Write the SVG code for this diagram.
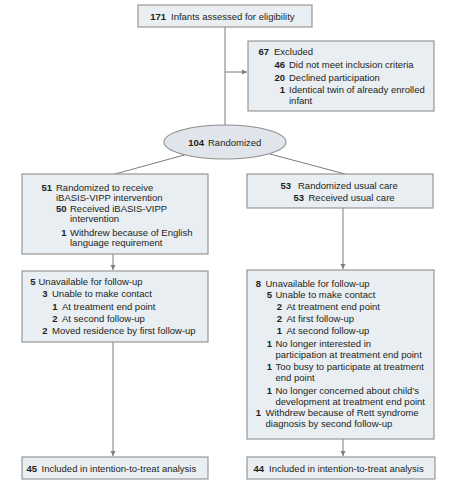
<svg xmlns="http://www.w3.org/2000/svg" width="458" height="490" viewBox="0 0 458 490">
<style>
.box{fill:#e9eef2;stroke:#8e8e8e;stroke-width:1.1}
.ell{fill:#dfe5ea;stroke:#8e8e8e;stroke-width:1.1}
.ln{fill:none;stroke:#7d7d7d;stroke-width:1}
text{font-family:"Liberation Sans",Arial,sans-serif;font-size:9.5px;fill:#231f20}
.n{font-weight:bold;text-anchor:end}
</style>
<defs>
<marker id="ah" markerWidth="6" markerHeight="6" refX="5" refY="3" orient="auto" markerUnits="userSpaceOnUse">
<path d="M0,0.5 L5,3 L0,5.5 Z" fill="#7d7d7d"/>
</marker>
</defs>
<rect width="458" height="490" fill="#ffffff"/>
<g id="connectors">
<line class="ln" x1="225" y1="27" x2="225" y2="125"/>
<line class="ln" x1="225" y1="72" x2="247" y2="72" marker-end="url(#ah)"/>
<line class="ln" x1="185" y1="154.8" x2="115" y2="174"/>
<line class="ln" x1="270" y1="154" x2="345" y2="174"/>
<line class="ln" x1="113" y1="254" x2="113" y2="270" marker-end="url(#ah)"/>
<line class="ln" x1="343" y1="208" x2="343" y2="269" marker-end="url(#ah)"/>
<line class="ln" x1="113" y1="342" x2="113" y2="456" marker-end="url(#ah)"/>
<line class="ln" x1="343" y1="439" x2="343" y2="456" marker-end="url(#ah)"/>
</g>
<g id="assessed">
<rect class="box" x="138" y="5" width="174" height="22"/>
<text class="n" x="166" y="20">171</text>
<text x="171" y="20">Infants assessed for eligibility</text>
</g>
<g id="excluded">
<rect class="box" x="248" y="41" width="186" height="70"/>
<text class="n" x="269" y="55">67</text><text x="274" y="55">Excluded</text>
<text class="n" x="285" y="68">46</text><text x="289" y="68">Did not meet inclusion criteria</text>
<text class="n" x="285" y="80.5">20</text><text x="289" y="80.5">Declined participation</text>
<text class="n" x="285" y="93">1</text><text x="289" y="93">Identical twin of already enrolled</text>
<text x="289" y="104">infant</text>
</g>
<g id="randomized">
<ellipse class="ell" cx="225" cy="142" rx="61" ry="17"/>
<text class="n" x="204" y="146">104</text><text x="208" y="146">Randomized</text>
</g>
<g id="intervention">
<rect class="box" x="22" y="174" width="186" height="80"/>
<text class="n" x="52" y="190.5">51</text><text x="56" y="190.5">Randomized to receive</text>
<text x="56" y="200.5">iBASIS-VIPP intervention</text>
<text class="n" x="66.5" y="212">50</text><text x="70" y="212">Received iBASIS-VIPP</text>
<text x="70" y="222">intervention</text>
<text class="n" x="66.5" y="235.5">1</text><text x="70" y="235.5">Withdrew because of English</text>
<text x="70" y="245.5">language requirement</text>
</g>
<g id="usualcare">
<rect class="box" x="247" y="174" width="186" height="34"/>
<text class="n" x="291" y="189">53</text><text x="298" y="189">Randomized usual care</text>
<text class="n" x="304" y="201">53</text><text x="308.5" y="201">Received usual care</text>
</g>
<g id="followup-left">
<rect class="box" x="22" y="271" width="186" height="71"/>
<text class="n" x="35.5" y="285">5</text><text x="38.5" y="285">Unavailable for follow-up</text>
<text class="n" x="47.5" y="297">3</text><text x="52" y="297">Unable to make contact</text>
<text class="n" x="57.5" y="309.5">1</text><text x="62" y="309.5">At treatment end point</text>
<text class="n" x="57.5" y="321.5">2</text><text x="62" y="321.5">At second follow-up</text>
<text class="n" x="47.5" y="334">2</text><text x="52" y="334">Moved residence by first follow-up</text>
</g>
<g id="followup-right">
<rect class="box" x="247" y="270" width="187" height="169"/>
<text class="n" x="261" y="286.5">8</text><text x="265.5" y="286.5">Unavailable for follow-up</text>
<text class="n" x="272" y="297.5">5</text><text x="275.5" y="297.5">Unable to make contact</text>
<text class="n" x="282" y="309.5">2</text><text x="286.5" y="309.5">At treatment end point</text>
<text class="n" x="282" y="321.5">2</text><text x="286.5" y="321.5">At first follow-up</text>
<text class="n" x="282" y="333.5">1</text><text x="286.5" y="333.5">At second follow-up</text>
<text class="n" x="272" y="346.5">1</text><text x="275.5" y="346.5">No longer interested in</text>
<text x="275.5" y="357.5">participation at treatment end point</text>
<text class="n" x="272" y="370">1</text><text x="275.5" y="370">Too busy to participate at treatment</text>
<text x="275.5" y="381">end point</text>
<text class="n" x="272" y="393.5">1</text><text x="275.5" y="393.5">No longer concerned about child’s</text>
<text x="275.5" y="404.5">development at treatment end point</text>
<text class="n" x="261" y="416">1</text><text x="265.5" y="416">Withdrew because of Rett syndrome</text>
<text x="265.5" y="427">diagnosis by second follow-up</text>
</g>
<g id="itt-left">
<rect class="box" x="22" y="457" width="186" height="22"/>
<text class="n" x="37" y="471.5">45</text><text x="41.5" y="471.5">Included in intention-to-treat analysis</text>
</g>
<g id="itt-right">
<rect class="box" x="247" y="457" width="188" height="22"/>
<text class="n" x="264" y="471.5">44</text><text x="269" y="471.5">Included in intention-to-treat analysis</text>
</g>
</svg>
